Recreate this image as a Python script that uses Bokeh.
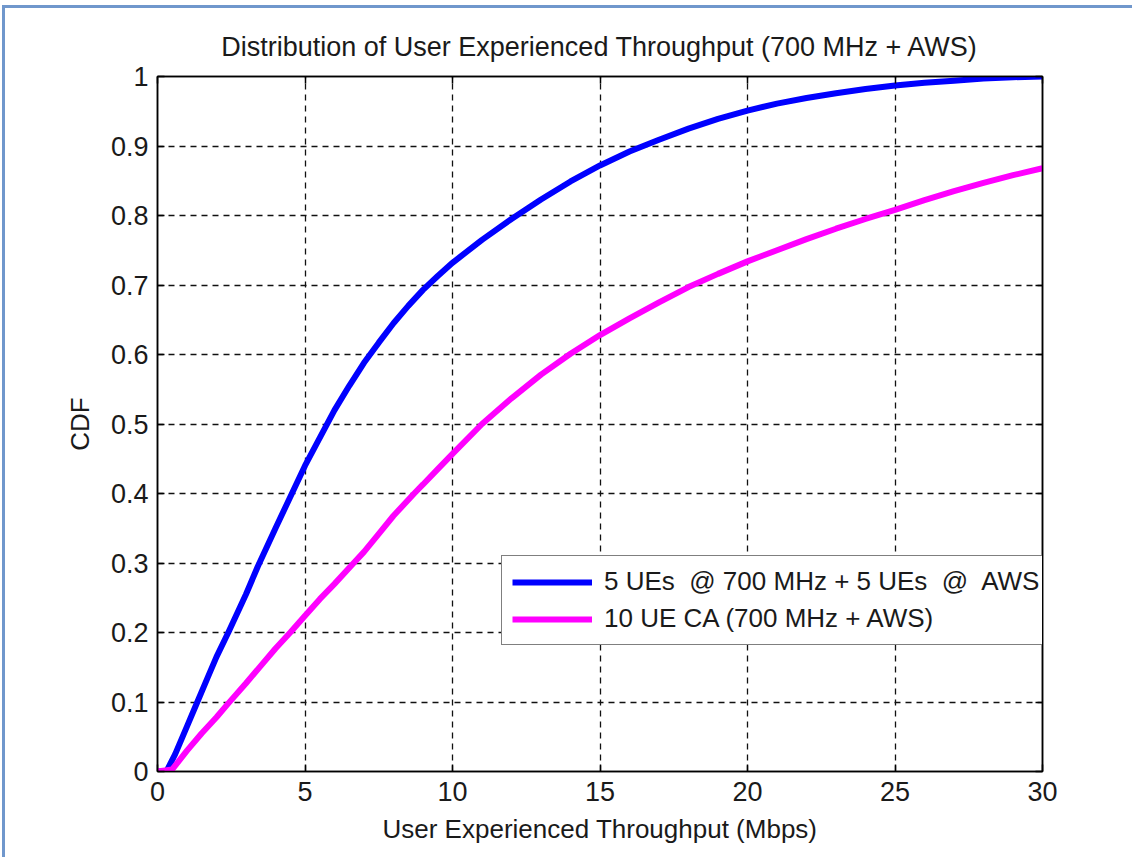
from bokeh.plotting import figure
from bokeh.models import LinearAxis, FixedTicker, Legend, LegendItem, Range1d
from bokeh.embed import file_html
from bokeh.resources import INLINE

title_text = "Distribution of User Experienced Throughput (700 MHz + AWS)"
x_label = "User Experienced Throughput (Mbps)"
y_label = "CDF"
series1_name = "5 UEs  @ 700 MHz + 5 UEs  @  AWS"
series2_name = "10 UE CA (700 MHz + AWS)"

x_ticks = [0, 5, 10, 15, 20, 25, 30]
y_ticks = [0, 0.1, 0.2, 0.3, 0.4, 0.5, 0.6, 0.7, 0.8, 0.9, 1.0]
y_tick_labels = ["0", "0.1", "0.2", "0.3", "0.4", "0.5", "0.6", "0.7", "0.8", "0.9", "1"]

blue_x = [0, 0.3, 0.6, 1.0, 1.35, 1.7, 2.0, 2.4, 3.0, 3.4, 4.0, 4.5, 5.0, 5.5, 6.0, 6.5, 7.0, 7.5,
          8.0, 8.5, 9.0, 9.5, 10.0, 11.0, 12.0, 13.0, 14.0, 15.0, 16.0, 17.0, 18.0, 19.0, 20.0,
          21.0, 22.0, 23.0, 24.0, 25.0, 26.0, 27.0, 28.0, 29.0, 30.0]
blue_y = [0, 0.0, 0.025, 0.065, 0.10, 0.135, 0.165, 0.20, 0.255, 0.295, 0.35, 0.395, 0.44, 0.48,
          0.52, 0.555, 0.588, 0.617, 0.645, 0.67, 0.693, 0.713, 0.732, 0.765, 0.795, 0.823, 0.849,
          0.872, 0.892, 0.909, 0.925, 0.939, 0.951, 0.961, 0.969, 0.976, 0.982, 0.987, 0.991,
          0.994, 0.997, 0.999, 1.0]

mag_x = [0, 0.5, 1.0, 1.5, 2.0, 2.4, 3.0, 3.5, 4.0, 4.5, 5.0, 5.5, 6.0, 6.65, 7.0, 7.5, 8.0, 8.7,
         9.0, 9.5, 10.0, 11.0, 12.0, 13.0, 14.0, 15.0, 16.0, 17.0, 18.0, 19.0, 20.0, 21.0, 22.0,
         23.0, 24.0, 25.0, 26.0, 27.0, 28.0, 29.0, 30.0]
mag_y = [0, 0.003, 0.03, 0.055, 0.078, 0.098, 0.127, 0.152, 0.177, 0.20, 0.224, 0.248, 0.27, 0.30,
         0.316, 0.342, 0.368, 0.40, 0.413, 0.435, 0.457, 0.50, 0.537, 0.571, 0.601, 0.628, 0.652,
         0.675, 0.697, 0.716, 0.734, 0.75, 0.766, 0.781, 0.795, 0.808, 0.822, 0.835, 0.847,
         0.858, 0.868]

FONT = "Liberation Sans"
TXT = "#1a1a1a"

p = figure(width=1130, height=852, output_backend="svg", toolbar_location=None,
           x_range=Range1d(0, 30), y_range=Range1d(0, 1),
           min_border_left=152, min_border_top=68, min_border_right=93, min_border_bottom=89)
p.background_fill_color = "white"
p.border_fill_color = "white"
p.outline_line_color = "black"
p.outline_line_width = 1.5
p.styles = {"margin-left": "5px", "margin-top": "8px", "box-shadow": "-3px -3px 0 0 #7097cc"}

p.title.text = title_text
p.title.align = "center"
p.title.text_font = FONT
p.title.text_font_size = "27px"
p.title.text_font_style = "normal"
p.title.text_color = TXT
p.title.standoff = 29

l1 = p.line(blue_x, blue_y, line_color="#0000ff", line_width=6)
l2 = p.line(mag_x, mag_y, line_color="#ff00ff", line_width=6)

for ax in [p.xaxis[0], p.yaxis[0]]:
    ax.major_tick_in = 7
    ax.major_tick_out = 0
    ax.minor_tick_in = 0
    ax.minor_tick_out = 0
    ax.axis_line_color = "black"
    ax.axis_line_width = 1.5
    ax.major_tick_line_color = "black"
    ax.major_tick_line_width = 1.5
    ax.major_label_text_font = FONT
    ax.major_label_text_font_size = "27px"
    ax.major_label_text_color = TXT
    ax.axis_label_text_font = FONT
    ax.axis_label_text_font_size = "26px"
    ax.axis_label_text_font_style = "normal"
    ax.axis_label_text_color = TXT

p.xaxis[0].ticker = FixedTicker(ticks=x_ticks)
p.yaxis[0].ticker = FixedTicker(ticks=y_ticks)
p.yaxis[0].major_label_overrides = {t: lab for t, lab in zip(y_ticks, y_tick_labels)}
p.xaxis[0].axis_label = x_label
p.yaxis[0].axis_label = y_label
p.xaxis[0].major_label_standoff = 10
p.yaxis[0].major_label_standoff = 9
p.xaxis[0].axis_label_standoff = 10
p.yaxis[0].axis_label_standoff = 13

for loc, ticks in [("above", x_ticks), ("right", y_ticks)]:
    ax = LinearAxis(ticker=FixedTicker(ticks=ticks))
    ax.major_tick_in = 7
    ax.major_tick_out = 0
    ax.minor_tick_in = 0
    ax.minor_tick_out = 0
    ax.major_label_text_font_size = "0px"
    ax.major_label_standoff = 0
    ax.axis_line_color = "black"
    ax.axis_line_width = 1.5
    ax.major_tick_line_width = 1.5
    p.add_layout(ax, loc)

p.xgrid.ticker = FixedTicker(ticks=x_ticks)
p.ygrid.ticker = FixedTicker(ticks=y_ticks)
p.grid.grid_line_color = "#111111"
p.grid.grid_line_dash = "6 5"
p.grid.grid_line_width = 1.3

legend = Legend(items=[LegendItem(label=series1_name, renderers=[l1]),
                       LegendItem(label=series2_name, renderers=[l2])],
                location=(344, 126))
legend.label_text_font = FONT
legend.label_text_font_size = "26px"
legend.label_text_color = TXT
legend.border_line_color = "black"
legend.border_line_width = 1.3
legend.background_fill_color = "white"
legend.background_fill_alpha = 1
legend.glyph_width = 80
legend.glyph_height = 28
legend.label_height = 28
legend.label_standoff = 12
legend.padding = 10
legend.spacing = 6
legend.margin = 0
p.add_layout(legend, "center")

open("out.html", "w").write(file_html(p, INLINE))
